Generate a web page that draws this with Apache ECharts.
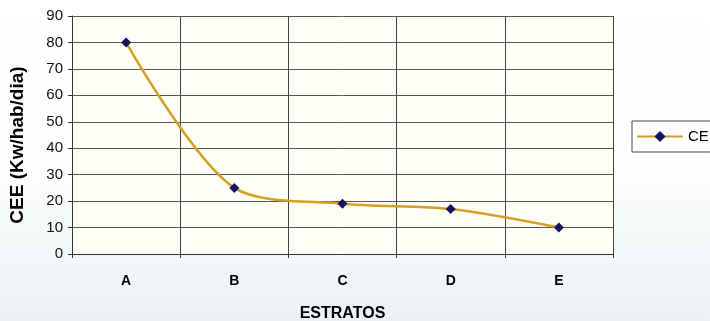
<!DOCTYPE html>
<html>
<head>
<meta charset="utf-8">
<script src="https://cdn.jsdelivr.net/npm/echarts@6/dist/echarts.min.js"></script>
<style>
  html, body { margin: 0; padding: 0; background: #ffffff; }
  #chart { width: 710px; height: 321px; }
</style>
</head>
<body>
<div id="chart"></div>
<script>
// Consumo de energía eléctrica por estrato
const categories = ['A', 'B', 'C', 'D', 'E'];
const ceeValues = [80, 25, 19, 17, 10];
const yTicks = { min: 0, max: 90, interval: 10 };
const seriesName = 'CEE';

const FONT = '"Liberation Sans", Arial, sans-serif';
const chart = echarts.init(document.getElementById('chart'), null, { renderer: 'canvas' });

chart.setOption({
  animation: false,
  backgroundColor: {
    type: 'linear', x: 0, y: 0, x2: 0, y2: 1,
    colorStops: [
      { offset: 0, color: '#ffffff' },
      { offset: 0.55, color: '#fcfdfc' },
      { offset: 1, color: '#ebf2f6' }
    ]
  },
  grid: {
    left: 72, right: 97, top: 16, bottom: 67,
    outerBoundsMode: 'none',
    show: true, backgroundColor: '#fffef7', borderWidth: 0
  },
  legend: {
    left: 632, top: 121,
    padding: [8, 8, 8, 4],
    itemWidth: 46, itemHeight: 14, itemGap: 4,
    borderColor: '#444', borderWidth: 1,
    backgroundColor: '#ffffff',
    textStyle: { fontFamily: FONT, fontSize: 15, color: '#000' },
    data: [seriesName]
  },
  xAxis: {
    type: 'category',
    data: categories,
    boundaryGap: true,
    name: 'ESTRATOS',
    nameLocation: 'middle',
    nameGap: 52,
    nameTextStyle: { fontFamily: FONT, fontWeight: 'bold', fontSize: 16, color: '#000' },
    axisLine: { lineStyle: { color: '#333', width: 1 } },
    axisTick: { show: true, length: 4, lineStyle: { color: '#333' } },
    axisLabel: { fontFamily: FONT, fontWeight: 'bold', fontSize: 14, color: '#000', margin: 20 },
    splitLine: { show: true, lineStyle: { color: '#444', width: 1 } }
  },
  yAxis: {
    type: 'value',
    min: yTicks.min, max: yTicks.max, interval: yTicks.interval,
    name: 'CEE (Kw/hab/dia)',
    nameLocation: 'middle',
    nameGap: 45,
    nameTextStyle: { fontFamily: FONT, fontWeight: 'bold', fontSize: 19, color: '#000', padding: [0, 20, 0, 0] },
    axisLine: { show: true, lineStyle: { color: '#333', width: 1 } },
    axisTick: { show: true, length: 4, lineStyle: { color: '#333' } },
    axisLabel: { fontFamily: FONT, fontSize: 15, color: '#111', margin: 9 },
    splitLine: { show: true, lineStyle: { color: '#555', width: 1 } }
  },
  series: [{
    name: seriesName,
    type: 'line',
    data: ceeValues,
    smooth: 0.3,
    symbol: 'diamond',
    symbolSize: 10,
    lineStyle: { color: '#d4a024', width: 2.5 },
    itemStyle: { color: '#14145e', borderWidth: 0 }
  }]
});
</script>
</body>
</html>
